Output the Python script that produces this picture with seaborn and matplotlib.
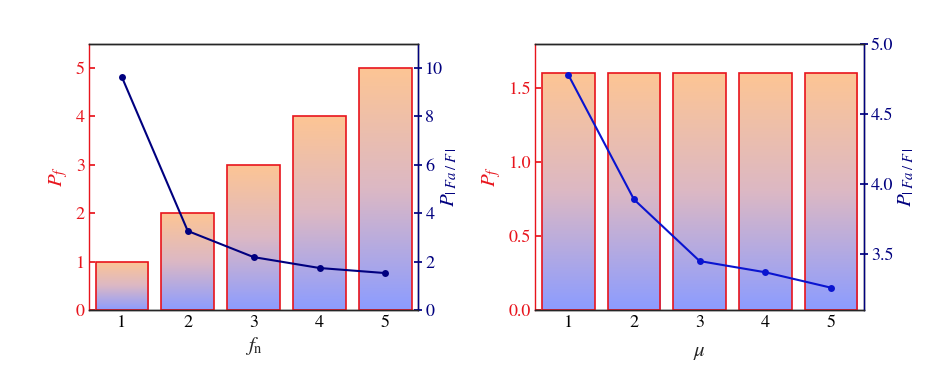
import numpy as np
import pandas as pd
import matplotlib.pyplot as plt
import seaborn as sns
from matplotlib.colors import LinearSegmentedColormap

# data
fn = [1, 2, 3, 4, 5]
pf_fn = [1, 2, 3, 4, 5]
pfa_fn = [9.63, 3.27, 2.19, 1.74, 1.53]

mu = [1, 2, 3, 4, 5]
pf_mu = [1.6, 1.6, 1.6, 1.6, 1.6]
pfa_mu = [4.78, 3.89, 3.45, 3.37, 3.26]

sns.set_theme(style='white')
plt.rcParams['font.family'] = ['STIXGeneral', 'Liberation Serif', 'DejaVu Serif']
plt.rcParams['mathtext.fontset'] = 'stix'
plt.rcParams['font.size'] = 13

RED = '#e8141c'
NAVY = '#00007f'
grad = LinearSegmentedColormap.from_list('g', ['#8c9cff', '#dcb8c4', '#fdc594'])
gimg = np.linspace(0, 1, 256).reshape(-1, 1)


def panel(ax, x, bars, line, xlabel, ylim, ylim2, yticks, yticks2, yfmt, y2fmt,
          lcolor, xpad, rpad):
    df = pd.DataFrame({'x': x, 'bar': bars, 'line': line})
    sns.barplot(data=df, x='x', y='bar', native_scale=True, width=0.8,
                facecolor='none', edgecolor=RED, linewidth=1.2, ax=ax, zorder=3)
    for p in ax.patches:
        x0, y0 = p.get_x(), p.get_y()
        w, h = p.get_width(), p.get_height()
        im = ax.imshow(gimg, cmap=grad, aspect='auto', origin='lower',
                       extent=[x0, x0 + w, y0, y0 + h], zorder=2)
        im.set_clip_path(p)
    ax.set_xlim(0.5, 5.5)
    ax.set_ylim(*ylim)
    ax.set_xticks(x)
    ax.set_yticks(yticks)
    ax.set_yticklabels([yfmt.format(v) for v in yticks])
    ax.set_xlabel(xlabel, fontsize=15, labelpad=xpad)
    ax.set_ylabel('$P_f$', color=RED, fontsize=15)
    ax.tick_params(axis='y', colors=RED, direction='in', length=4, labelsize=13, pad=3)
    ax.tick_params(axis='x', direction='in', length=4, labelsize=13, colors='black')
    ax.spines['left'].set_color(RED)
    for s in ['bottom', 'top']:
        ax.spines[s].set_color('black')

    ax2 = ax.twinx()
    sns.lineplot(data=df, x='x', y='line', color=lcolor, marker='o',
                 markersize=5, markeredgewidth=0, linewidth=1.5, ax=ax2)
    ax2.set_ylim(*ylim2)
    ax2.set_yticks(yticks2)
    ax2.set_yticklabels([y2fmt.format(v) for v in yticks2])
    ax2.set_ylabel(r'$P_{|\;Fa\;/\;F\,|}$', color=NAVY, fontsize=15, labelpad=rpad)
    ax2.tick_params(axis='y', colors=NAVY, direction='inout', length=6, labelsize=13, pad=2)
    ax2.spines['right'].set_color(NAVY)
    ax2.spines['left'].set_visible(False)
    for s in ax.spines.values():
        s.set_linewidth(1.0)
    for s in ax2.spines.values():
        s.set_linewidth(1.0)
    ax2.set_xlabel('')


fig = plt.figure(figsize=(9.36, 3.75), dpi=100)
ax1 = fig.add_axes([0.095, 0.173, 0.352, 0.71])
ax2 = fig.add_axes([0.572, 0.173, 0.351, 0.71])

panel(ax1, fn, pf_fn, pfa_fn, '$f_\\mathrm{n}$', (0, 5.5), (0, 11),
      [0, 1, 2, 3, 4, 5], [0, 2, 4, 6, 8, 10], '{:.0f}', '{:.0f}', NAVY, 3, -3)
panel(ax2, mu, pf_mu, pfa_mu, '$\\mu$', (0, 1.8), (3.1, 5.0),
      [0, 0.5, 1.0, 1.5], [3.5, 4.0, 4.5, 5.0], '{:.1f}', '{:.1f}', '#0a14d0', 8, 2)

fig.savefig('out.png', dpi=100)
